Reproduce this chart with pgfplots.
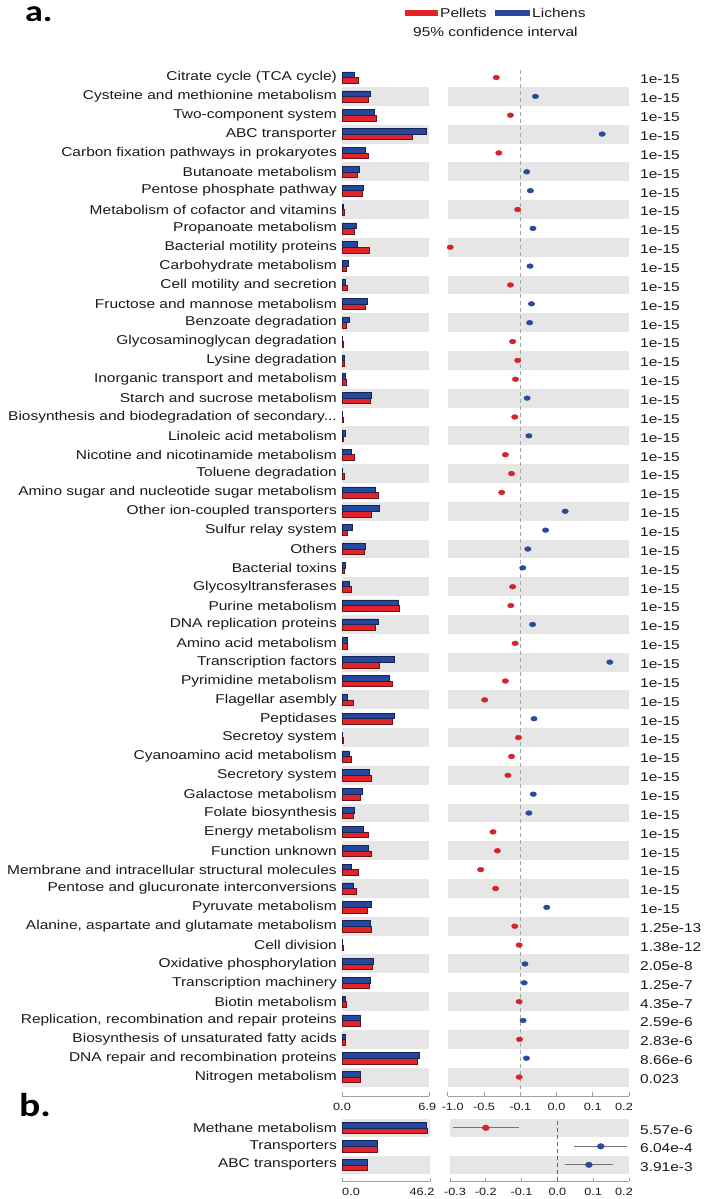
\documentclass[border=0pt]{standalone}
\usepackage{pgfplots}
\usepackage{pgfplotstable}
\pgfplotsset{compat=1.18}
\usepackage{fontspec}
\setmainfont{Liberation Sans}[FakeStretch=1.21]
\newfontfamily\panelfont{Carlito}[FakeStretch=1.2]

\definecolor{cred}{RGB}{227,35,40}
\definecolor{credd}{RGB}{110,20,22}
\definecolor{cblue}{RGB}{38,72,156}
\definecolor{cblued}{RGB}{22,36,84}
\definecolor{dred}{RGB}{212,36,42}
\definecolor{dblue}{RGB}{40,76,152}
\definecolor{stripe}{RGB}{230,230,230}
\definecolor{axgray}{RGB}{160,160,160}
\definecolor{txt}{RGB}{25,25,25}

\newcommand\dotsthree{.\kern0pt.\kern0pt.}

% Panel a: y = 55 - row index (row 1 = Citrate cycle at top)
\pgfplotstableread{
y blue red
54 0.95 1.26
53 2.27 2.08
52 2.53 2.69
51 6.64 5.56
50 1.82 2.11
49 1.34 1.21
48 1.71 1.58
47 0.13 0.21
46 1.11 0.95
45 1.19 2.16
44 0.53 0.37
43 0.26 0.42
42 2.03 1.84
41 0.55 0.37
40 0.05 0.13
39 0.16 0.21
38 0.24 0.34
37 2.34 2.21
36 0.05 0.13
35 0.26 0.11
34 0.76 0.97
33 0.05 0.16
32 2.61 2.87
31 2.95 2.34
30 0.79 0.45
29 1.82 1.74
28 0.24 0.18
27 0.61 0.74
26 4.45 4.53
25 2.87 2.66
24 0.40 0.45
23 4.13 2.95
22 3.77 3.95
21 0.40 0.92
20 4.16 3.95
19 0.05 0.13
18 0.58 0.74
17 2.16 2.29
16 1.63 1.45
15 0.97 0.87
14 1.66 2.05
13 2.05 2.34
12 0.74 1.26
11 0.87 1.16
10 2.34 2.03
9 2.24 2.32
8 0.05 0.13
7 2.48 2.42
6 2.21 2.13
5 0.29 0.32
4 1.45 1.45
3 0.24 0.24
2 6.08 5.98
1 1.45 1.45
}\barsA

\pgfplotstableread{
y blue red
3 44.4 45.0
2 18.7 18.7
1 13.5 13.5
}\barsB

\pgfplotsset{
  common/.style={
    scale only axis, anchor=north west, clip=false,
    axis x line*=bottom,
    y axis line style={draw=none},
    x axis line style={axgray, line width=0.8pt},
    xtick style={axgray, line width=0.8pt},
    xtick align=inside,
    major tick length=3.5pt,
    ytick style={draw=none},
    /pgf/number format/assume math mode=true,
    xticklabel style={inner sep=0pt, yshift=-7pt, text=txt, font=\fontsize{10.5}{12}\selectfont},
  },
  barax/.style={common, yticklabel style={anchor=east, inner sep=0pt, xshift=-5pt, text=txt, font=\fontsize{12.8}{15}\selectfont}},
  dotax/.style={common, yticklabel pos=right, yticklabel style={anchor=west, inner sep=0pt, xshift=11pt, yshift=-2pt, text=txt, font=\fontsize{12.8}{15}\selectfont}},
  bluebar/.style={xbar, bar width=5.6pt, bar shift=2.8pt, fill=cblue, draw=cblued, line width=0.5pt},
  redbar/.style={xbar, bar width=5.6pt, bar shift=-2.8pt, fill=cred, draw=credd, line width=0.5pt},
}

\begin{document}
\fontsize{12.8}{15}\selectfont
\begin{tikzpicture}
\path[use as bounding box] (0,0) rectangle (704pt,-1199pt);

% panel labels and legend
\node[anchor=base west, inner sep=0pt, font=\panelfont\bfseries\fontsize{30}{30}\selectfont] at (25pt,-22pt) {a.};
\node[anchor=base west, inner sep=0pt, font=\panelfont\bfseries\fontsize{33}{33}\selectfont] at (19pt,-1116.7pt) {b.};
\fill[cred] (405pt,-10pt) rectangle (438pt,-15.7pt);
\node[anchor=base west, inner sep=0pt, text=txt] at (440pt,-17.5pt) {Pellets};
\fill[cblue] (495pt,-10pt) rectangle (530pt,-15.7pt);
\node[anchor=base west, inner sep=0pt, text=txt] at (532pt,-17.5pt) {Lichens};
\node[anchor=base west, inner sep=0pt, text=txt] at (413pt,-36.5pt) {95\% confidence interval};

% ---------- panel a: bars ----------
\begin{axis}[barax, at={(342pt,-68.07pt)}, width=87.3pt, height=1027.87pt,
  xmin=0, xmax=6.9, ymin=0, ymax=54.5,
  xtick={0,6.9}, xticklabels={0.0,6.9\hspace*{4pt}},
  ytick={1,2,3,4,5,6,7,8,9,10,11,12,13,14,15,16,17,18,19,20,21,22,23,24,25,26,27,28,29,30,31,32,33,34,35,36,37,38,39,40,41,42,43,44,45,46,47,48,49,50,51,52,53,54},
  yticklabels={Nitrogen metabolism, DNA repair and recombination proteins, Biosynthesis of unsaturated fatty acids, {Replication, recombination and repair proteins}, Biotin metabolism, Transcription machinery, Oxidative phosphorylation, Cell division, {Alanine, aspartate and glutamate metabolism}, Pyruvate metabolism, Pentose and glucuronate interconversions, Membrane and intracellular structural molecules, Function unknown, Energy metabolism, Folate biosynthesis, Galactose metabolism, Secretory system, Cyanoamino acid metabolism, Secretoy system, Peptidases, Flagellar asembly, Pyrimidine metabolism, Transcription factors, Amino acid metabolism, DNA replication proteins, Purine metabolism, Glycosyltransferases, Bacterial toxins, Others, Sulfur relay system, Other ion-coupled transporters, Amino sugar and nucleotide sugar metabolism, Toluene degradation, Nicotine and nicotinamide metabolism, Linoleic acid metabolism, {Biosynthesis and biodegradation of secondary\dotsthree}, Starch and sucrose metabolism, Inorganic transport and metabolism, Lysine degradation, Glycosaminoglycan degradation, Benzoate degradation, Fructose and mannose metabolism, Cell motility and secretion, Carbohydrate metabolism, Bacterial motility proteins, Propanoate metabolism, Metabolism of cofactor and vitamins, Pentose phosphate pathway, Butanoate metabolism, Carbon fixation pathways in prokaryotes, ABC transporter, Two-component system, Cysteine and methionine metabolism, {Citrate cycle (TCA cycle)}},
]
\pgfplotsinvokeforeach{1,3,...,53}{\fill[stripe] (axis cs:0,#1-0.5) rectangle (axis cs:6.9,#1+0.5);}
\addplot[redbar] table[x=red, y=y] {\barsA};
\addplot[bluebar] table[x=blue, y=y] {\barsA};
\end{axis}

% ---------- panel a: differences ----------
\begin{axis}[dotax, at={(447.7pt,-68.07pt)}, width=181.3pt, height=1027.87pt,
  xmin=-0.3, xmax=0.2, ymin=0, ymax=54.5,
  xtick={-0.3,-0.2,-0.1,0,0.1,0.2},
  xticklabels={\hspace*{10pt}-1.0,-0.5,-0.1,0.0,0.1,0.2\hspace*{10pt}},
  ytick={1,2,3,4,5,6,7,8,9,10,11,12,13,14,15,16,17,18,19,20,21,22,23,24,25,26,27,28,29,30,31,32,33,34,35,36,37,38,39,40,41,42,43,44,45,46,47,48,49,50,51,52,53,54},
  yticklabels={0.023,8.66e-6,2.83e-6,2.59e-6,4.35e-7,1.25e-7,2.05e-8,1.38e-12,1.25e-13,1e-15,1e-15,1e-15,1e-15,1e-15,1e-15,1e-15,1e-15,1e-15,1e-15,1e-15,1e-15,1e-15,1e-15,1e-15,1e-15,1e-15,1e-15,1e-15,1e-15,1e-15,1e-15,1e-15,1e-15,1e-15,1e-15,1e-15,1e-15,1e-15,1e-15,1e-15,1e-15,1e-15,1e-15,1e-15,1e-15,1e-15,1e-15,1e-15,1e-15,1e-15,1e-15,1e-15,1e-15,1e-15},
]
\pgfplotsinvokeforeach{1,3,...,53}{\fill[stripe] (axis cs:-0.3,#1-0.5) rectangle (axis cs:0.2,#1+0.5);}
\draw[black!35, line width=1.3pt, dash pattern=on 4pt off 3pt] (axis cs:-0.1,0) -- (axis cs:-0.1,54.5);
\addplot[only marks, mark=*, mark size=2.4pt, mark options={xscale=1.35, draw=dred, fill=dred}] coordinates {
(-0.166,54) (-0.127,52) (-0.159,50) (-0.107,47) (-0.293,45) (-0.127,43)
(-0.121,40) (-0.107,39) (-0.113,38) (-0.115,36) (-0.141,34) (-0.124,33)
(-0.151,32) (-0.121,27) (-0.126,26) (-0.114,24) (-0.141,22) (-0.198,21)
(-0.105,19) (-0.124,18) (-0.134,17) (-0.175,14) (-0.163,13) (-0.209,12)
(-0.168,11) (-0.115,9) (-0.103,8) (-0.103,5) (-0.102,3) (-0.103,1)};
\addplot[only marks, mark=*, mark size=2.4pt, mark options={xscale=1.35, draw=dblue, fill=dblue}] coordinates {
(-0.058,53) (0.126,51) (-0.082,49) (-0.072,48) (-0.065,46) (-0.073,44)
(-0.069,42) (-0.074,41) (-0.081,37) (-0.076,35) (0.024,31) (-0.030,30)
(-0.079,29) (-0.093,28) (-0.066,25) (0.147,23) (-0.062,20) (-0.064,16)
(-0.076,15) (-0.027,10) (-0.087,7) (-0.089,6) (-0.092,4) (-0.083,2)};
\end{axis}

% ---------- panel b: bars ----------
\begin{axis}[barax, at={(342pt,-1118.55pt)}, width=88pt, height=62.9pt,
  xmin=0, xmax=46.2, ymin=0.1, ymax=3.5,
  xticklabel style={yshift=0.5pt},
  xtick={0,46.2}, xticklabels={\hspace*{18pt}0.0,46.2\hspace*{16pt}},
  ytick={1,2,3},
  yticklabels={ABC transporters, Transporters, Methane metabolism},
]
\fill[stripe] (axis cs:0,0.5) rectangle (axis cs:46.2,1.5);
\fill[stripe] (axis cs:0,2.5) rectangle (axis cs:46.2,3.5);
\addplot[redbar] table[x=red, y=y] {\barsB};
\addplot[bluebar] table[x=blue, y=y] {\barsB};
\end{axis}

% ---------- panel b: differences ----------
\begin{axis}[dotax, at={(450pt,-1118.55pt)}, width=179pt, height=62.9pt,
  xmin=-0.3, xmax=0.2, ymin=0.1, ymax=3.5,
  xticklabel style={yshift=0.5pt},
  xtick={-0.3,-0.2,-0.1,0,0.1,0.2},
  xticklabels={\hspace*{10pt}-0.3,-0.2,-0.1,0.0,0.1,0.2\hspace*{10pt}},
  ytick={1,2,3},
  yticklabels={3.91e-3,6.04e-4,5.57e-6},
]
\fill[stripe] (axis cs:-0.3,0.5) rectangle (axis cs:0.2,1.5);
\fill[stripe] (axis cs:-0.3,2.5) rectangle (axis cs:0.2,3.5);
\draw[black!60, line width=0.8pt, dash pattern=on 4pt off 3pt] (axis cs:0,0.1) -- (axis cs:0,3.5);
\addplot[only marks, mark=none, error bars/.cd, x dir=both, x explicit,
  error bar style={draw=black!55, line width=1pt},
  error mark options={draw=black!55, line width=1pt, mark size=2.4pt}]
  coordinates {(-0.200,3) +- (0.086,0) (0.121,2) +- (0.068,0) (0.088,1) +- (0.060,0)};
\addplot[only marks, mark=*, mark size=2.8pt, mark options={xscale=1.25, draw=dred, fill=dred}] coordinates {(-0.200,3)};
\addplot[only marks, mark=*, mark size=2.8pt, mark options={xscale=1.25, draw=dblue, fill=dblue}] coordinates {(0.121,2) (0.088,1)};
\end{axis}
\end{tikzpicture}
\end{document}
